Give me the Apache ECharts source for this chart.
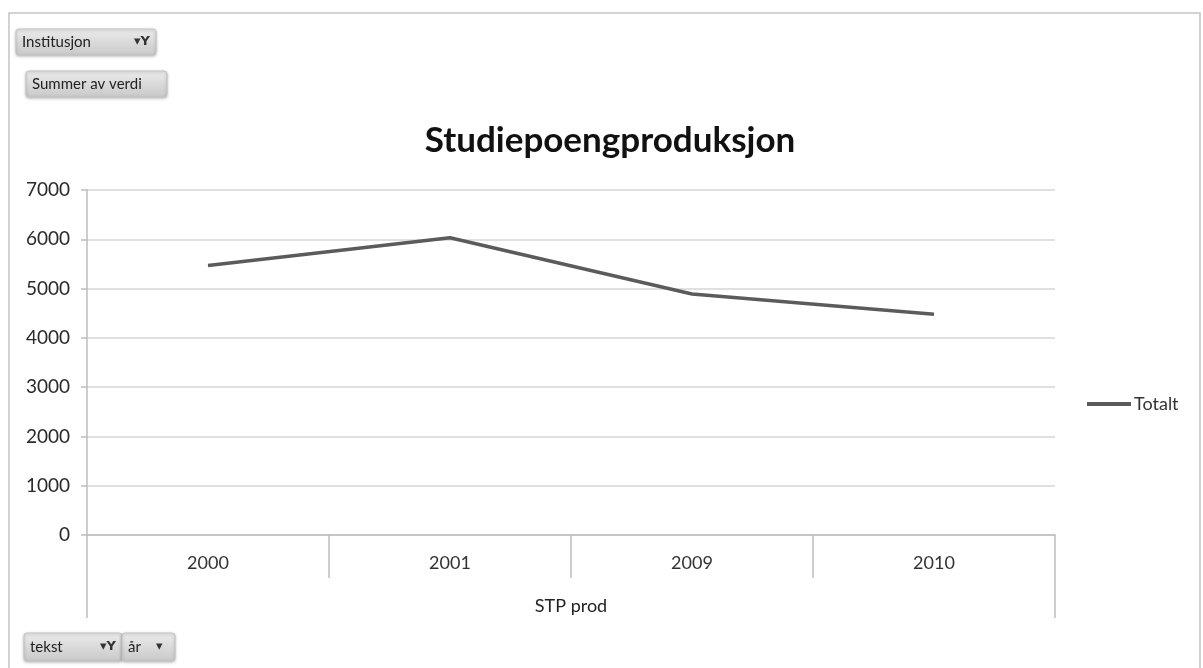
<!DOCTYPE html>
<html>
<head>
<meta charset="utf-8">
<title>Studiepoengproduksjon</title>
<script src="https://cdn.jsdelivr.net/npm/echarts@6/dist/echarts.min.js"></script>
<style>
  html, body { margin: 0; padding: 0; background: #ffffff; }
  #chart { width: 1203px; height: 668px; }
</style>
</head>
<body>
<div id="chart"></div>
<script>
// Pivot chart: credit production per year
const years = ['2000', '2001', '2009', '2010'];
const totalt = [5470, 6030, 4890, 4480];
const groupLabels = ['STP prod'];
const seriesName = 'Totalt';
const yTicks = { min: 0, max: 7000, interval: 1000 };

const FONT = 'Lato, "Open Sans", sans-serif';
const AXIS_GRAY = '#bdbdbd';

// Pivot field buttons drawn as small gradient "chips"
function fieldButton(x, y, w, h, label, extra) {
  const children = [
    {
      type: 'rect',
      shape: { x: 0, y: 0, width: w, height: h, r: 3 },
      style: {
        fill: new echarts.graphic.LinearGradient(0, 0, 0, 1, [
          { offset: 0, color: '#ececec' },
          { offset: 0.5, color: '#dadada' },
          { offset: 1, color: '#c9c9c9' }
        ]),
        stroke: '#c4c4c4',
        lineWidth: 1,
        shadowBlur: 3,
        shadowColor: 'rgba(0,0,0,0.25)',
        shadowOffsetY: 1
      }
    },
    {
      type: 'text',
      x: 6,
      y: h / 2,
      style: {
        text: label,
        fontFamily: FONT,
        fontSize: 15,
        fill: '#222222',
        verticalAlign: 'middle'
      }
    }
  ];
  (extra || []).forEach(function (e) { children.push(e); });
  return { type: 'group', x: x, y: y, children: children };
}

function filterIcon(x, y) {
  return {
    type: 'text', x: x, y: y,
    style: { text: '\u25BE\u0059', fontFamily: 'DejaVu Sans', fontSize: 13, fontWeight: 'bold', fill: '#333', verticalAlign: 'middle' }
  };
}
function dropIcon(x, y) {
  return {
    type: 'text', x: x, y: y,
    style: { text: '\u25BE', fontFamily: 'DejaVu Sans', fontSize: 13, fill: '#333', verticalAlign: 'middle' }
  };
}

const chart = echarts.init(document.getElementById('chart'), null, { renderer: 'canvas' });

chart.setOption({
  backgroundColor: '#ffffff',
  animation: false,
  title: {
    text: 'Studiepoengproduksjon',
    left: 605,
    textAlign: 'center',
    top: 118,
    textStyle: { fontFamily: FONT, fontWeight: 'bold', fontSize: 35, color: '#111111' }
  },
  legend: {
    data: [seriesName],
    left: 1082,
    top: 390,
    icon: 'rect',
    itemWidth: 44,
    itemHeight: 4,
    itemGap: 4,
    textStyle: { fontFamily: FONT, fontSize: 18, color: '#333333', padding: [0, 0, 0, -2] }
  },
  grid: { left: 87, right: 148, top: 190, bottom: 133, containLabel: false },
  xAxis: [
    {
      type: 'category',
      data: years,
      boundaryGap: true,
      axisLine: { show: true, lineStyle: { color: AXIS_GRAY, width: 1.5 } },
      axisTick: { show: true, interval: 0, length: 43, lineStyle: { color: AXIS_GRAY, width: 1.5 } },
      axisLabel: { margin: 19, fontFamily: FONT, fontSize: 18, color: '#333333' },
      splitLine: { show: false }
    },
    {
      type: 'category',
      data: groupLabels,
      position: 'bottom',
      boundaryGap: true,
      axisLine: { show: false },
      axisTick: { show: true, interval: 0, length: 83, lineStyle: { color: AXIS_GRAY, width: 1.5 } },
      axisLabel: { margin: 62, fontFamily: FONT, fontSize: 18, color: '#222222' },
      splitLine: { show: false }
    }
  ],
  yAxis: {
    type: 'value',
    min: yTicks.min,
    max: yTicks.max,
    interval: yTicks.interval,
    axisLine: { show: true, lineStyle: { color: AXIS_GRAY, width: 1.5 } },
    axisTick: { show: true, length: 6, lineStyle: { color: AXIS_GRAY, width: 1.5 } },
    axisLabel: {
      margin: 17,
      fontFamily: FONT,
      fontSize: 19,
      color: '#2a2a2a',
      formatter: function (v) { return String(v); }
    },
    splitLine: { show: true, lineStyle: { color: '#d6d6d6', width: 1.5 } }
  },
  series: [
    {
      name: seriesName,
      type: 'line',
      xAxisIndex: 0,
      data: totalt,
      symbol: 'none',
      showSymbol: false,
      lineStyle: { color: '#5b5b5b', width: 3.5 },
      itemStyle: { color: '#5b5b5b' }
    }
  ],
  graphic: [
    {
      type: 'rect',
      silent: true,
      shape: { x: 9, y: 13, width: 1191, height: 670 },
      style: { fill: 'none', stroke: '#c4c4c4', lineWidth: 1.5 }
    },
    fieldButton(16, 29, 140, 26, 'Institusjon', [filterIcon(118, 13)]),
    fieldButton(26, 71, 141, 26, 'Summer av verdi'),
    fieldButton(24, 633, 98, 28, 'tekst', [filterIcon(76, 14)]),
    fieldButton(122, 633, 53, 28, '\u00E5r', [dropIcon(34, 14)])
  ]
});
</script>
</body>
</html>
